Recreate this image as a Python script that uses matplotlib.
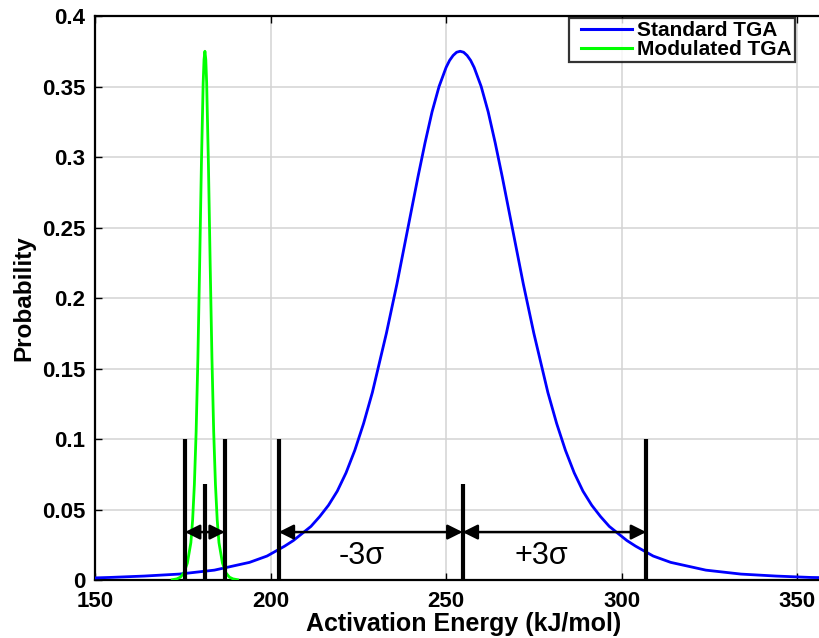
"""
Activation energy distributions, standard vs modulated TGA
"""
import matplotlib
matplotlib.use("Agg")
import matplotlib.pyplot as plt
from matplotlib.lines import Line2D
from matplotlib.legend_handler import HandlerLine2D

plt.rcParams['font.family'] = ['Liberation Sans', 'DejaVu Sans']

# values
x_std = [150, 154, 164, 174, 184, 194, 199, 204, 206.5, 209, 211.5, 214, 216.5, 219, 221.5,
         224, 226.5, 229, 233, 236, 239, 242, 244, 246, 248, 250, 251, 252, 253, 254,
         255, 256, 257, 258, 260, 262, 264, 266, 269, 272, 275, 279, 281.5, 284, 286.5,
         289, 291.5, 294, 296.5, 299, 301.5, 304, 309, 314, 324, 334, 344, 354, 360]
p_std = [0.0015, 0.0018, 0.0028, 0.0042, 0.007, 0.0125, 0.017, 0.024, 0.028, 0.033, 0.038, 0.045, 0.053, 0.063, 0.076,
         0.092, 0.111, 0.133, 0.175, 0.210, 0.248, 0.286, 0.310, 0.332, 0.350, 0.3635, 0.3685, 0.372, 0.3743, 0.375,
         0.3743, 0.372, 0.3685, 0.3635, 0.350, 0.332, 0.310, 0.286, 0.248, 0.210, 0.175, 0.133, 0.111, 0.092, 0.076,
         0.063, 0.053, 0.045, 0.038, 0.033, 0.028, 0.024, 0.017, 0.0125, 0.007, 0.0042, 0.0028, 0.0018, 0.0016]

x_mod = [172.0, 173.3, 174.3, 175.3, 176.3, 177.3, 177.8, 178.3, 178.8, 179.3, 179.8, 180.3, 180.8, 181.05, 181.3,
         181.55, 181.8, 182.3, 182.8, 183.3, 183.8, 184.3, 184.8, 185.3, 186.3, 187.3, 188.3, 189.3, 190.6]
p_mod = [0.0002, 0.0008, 0.002, 0.005, 0.012, 0.0265, 0.0427, 0.0678, 0.1052, 0.1575, 0.2237, 0.2949, 0.3525, 0.3692, 0.375,
         0.3692, 0.3525, 0.2949, 0.2237, 0.1575, 0.1052, 0.0678, 0.0427, 0.0265, 0.012, 0.005, 0.002, 0.0008, 0.0002]

# +-3 sigma markers (lower, mean, upper)
std_marks = [202.3, 254.7, 307.0]
mod_marks = [175.6, 181.3, 187.0]
outer_h = 0.1
mean_h = 0.068
arrow_y = 0.034

fig = plt.figure(figsize=(8.2, 6.38), dpi=100)
ax = fig.add_axes([0.1159, 0.0909, 0.899, 0.884])

ax.plot(x_std, p_std, color=(0, 0, 1), lw=2.0, label='Standard TGA', zorder=3)
ax.plot(x_mod, p_mod, color=(0, 1, 0), lw=2.0, label='Modulated TGA', zorder=3)

for marks in (std_marks, mod_marks):
    ax.vlines([marks[0], marks[2]], 0, outer_h, color='k', lw=3, zorder=4)
    ax.vlines(marks[1], 0, mean_h, color='k', lw=3, zorder=4)

arr = dict(arrowstyle='<|-|>,head_length=0.9,head_width=0.45', color='k', lw=1.8,
           shrinkA=0, shrinkB=0, mutation_scale=10)
ax.annotate('', xy=(std_marks[0], arrow_y), xytext=(std_marks[1], arrow_y), arrowprops=arr, zorder=5)
ax.annotate('', xy=(std_marks[1], arrow_y), xytext=(std_marks[2], arrow_y), arrowprops=arr, zorder=5)
ax.annotate('', xy=(mod_marks[0], arrow_y), xytext=(mod_marks[2], arrow_y), arrowprops=arr, zorder=5)

ax.text(225.9, 0.0167, '-3σ', fontsize=22, ha='center', va='center')
ax.text(277.0, 0.0167, '+3σ', fontsize=22, ha='center', va='center')

ax.set_xlim(150, 360)
ax.set_ylim(0, 0.4)
ax.set_xticks([150, 200, 250, 300, 350])
ax.set_yticks([0, 0.05, 0.1, 0.15, 0.2, 0.25, 0.3, 0.35, 0.4])
ax.set_yticklabels(['0', '0.05', '0.1', '0.15', '0.2', '0.25', '0.3', '0.35', '0.4'])
ax.grid(True, color='#d3d3d3', lw=1.1)
ax.set_axisbelow(True)
ax.tick_params(direction='in', length=5, width=1, top=True, right=True,
               labelsize=16)
ax.tick_params(axis='y', pad=7)
ax.tick_params(axis='x', pad=8)
for lab in ax.get_xticklabels() + ax.get_yticklabels():
    lab.set_fontweight('bold')
for sp in ax.spines.values():
    sp.set_linewidth(1.6)

ax.set_xlabel('Activation Energy (kJ/mol)', fontsize=18, fontweight='bold', labelpad=0)
ax.set_ylabel('Probability', fontsize=17.5, fontweight='bold', labelpad=5)

leg = ax.legend(loc='upper right', bbox_to_anchor=(0.9498, 0.9965),
                prop={'weight': 'bold', 'size': 15}, frameon=True, fancybox=False,
                handlelength=2.88, handletextpad=0.25, labelspacing=0.0,
                borderpad=0.15, borderaxespad=0,
                handler_map={Line2D: HandlerLine2D(xpad=0.43)})
leg.get_frame().set_edgecolor('k')
leg.get_frame().set_linewidth(1.6)
for ln in leg.get_lines():
    ln.set_linewidth(2.2)

plt.savefig('out.png', dpi=100)
